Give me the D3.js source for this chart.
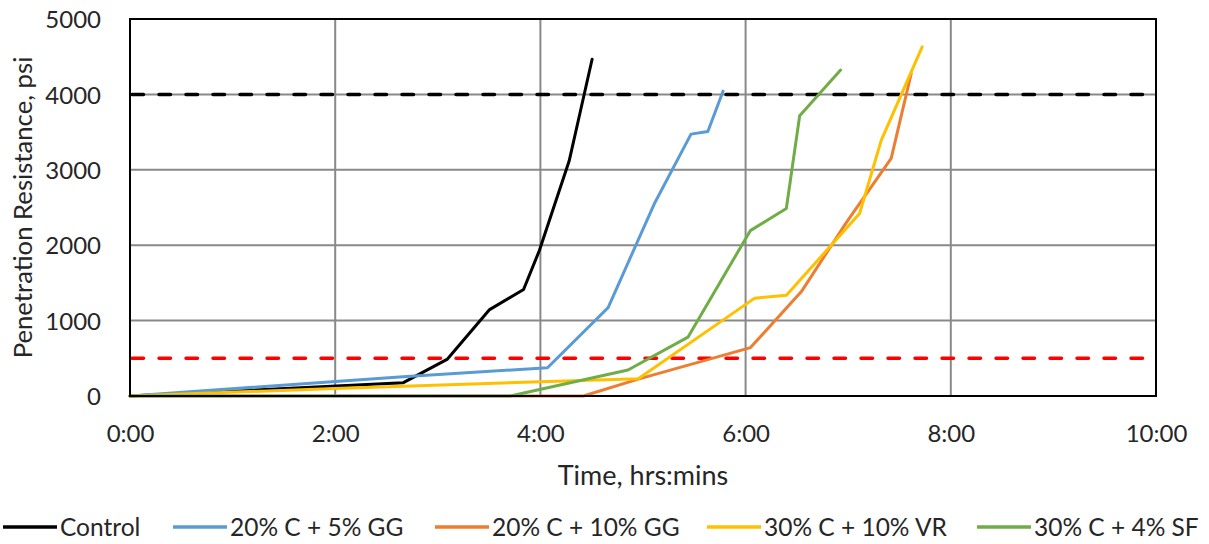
<!DOCTYPE html>
<html>
<head>
<meta charset="utf-8">
<script src="https://cdn.jsdelivr.net/npm/d3@7"></script>
<style>
  html, body { margin: 0; padding: 0; background: #fff; }
  svg { display: block; }
  text { font-family: Lato, "Open Sans", sans-serif; fill: #262626; }
</style>
</head>
<body>
<svg id="chart" width="1209" height="544"></svg>
<script>
// ---- data (time in hours, resistance in psi) ----
const seriesNames = ["Control", "20% C + 5% GG", "20% C + 10% GG", "30% C + 10% VR", "30% C + 4% SF"];
const seriesColors = ["#000000", "#5B9BD5", "#ED7D31", "#FFC000", "#70AD47"];

const controlTime = [0, 2.66, 3.09, 3.505, 3.836, 3.99, 4.28, 4.387, 4.504];
const controlPsi  = [0, 175, 485, 1146, 1412, 1930, 3116, 3760, 4466];

const gg5Time = [0, 2.66, 4.069, 4.66, 5.109, 5.468, 5.632, 5.78];
const gg5Psi  = [0, 255, 375, 1172, 2546, 3473, 3508, 4043];

const gg10Time = [0, 4.419, 4.954, 6.048, 6.544, 6.981, 7.419, 7.614];
const gg10Psi  = [0, 0, 224, 642, 1385, 2300, 3152, 4275];

const vrTime = [0, 2.0, 3.998, 4.954, 6.089, 6.398, 7.111, 7.322, 7.721];
const vrPsi  = [0, 100, 188, 228, 1298, 1335, 2420, 3390, 4630];

const sfTime = [0, 3.706, 4.854, 5.438, 6.046, 6.397, 6.527, 6.926];
const sfPsi  = [0, 0, 345, 780, 2193, 2487, 3718, 4323];

const thresholdValues = [4000, 500];
const thresholdColors = ["#000000", "#FF0000"];

const xTickValues = [0, 2, 4, 6, 8, 10];
const xTickLabels = ["0:00", "2:00", "4:00", "6:00", "8:00", "10:00"];
const yTickValues = [0, 1000, 2000, 3000, 4000, 5000];

const xTitle = "Time, hrs:mins";
const yTitle = "Penetration Resistance, psi";

// ---- layout ----
const plot = { left: 130, right: 1156, top: 19, bottom: 396 };
const svg = d3.select("#chart");

const x = d3.scaleLinear().domain([0, 10]).range([plot.left, plot.right]);
const y = d3.scaleLinear().domain([0, 5000]).range([plot.bottom, plot.top]);

// gridlines
const grid = svg.append("g");
grid.selectAll("line.v").data(xTickValues.slice(1, -1)).join("line")
  .attr("x1", d => x(d)).attr("x2", d => x(d))
  .attr("y1", plot.top).attr("y2", plot.bottom)
  .attr("stroke", "#898989").attr("stroke-width", 2);
grid.selectAll("line.h").data(yTickValues.slice(1, -1)).join("line")
  .attr("y1", d => y(d)).attr("y2", d => y(d))
  .attr("x1", plot.left).attr("x2", plot.right)
  .attr("stroke", "#898989").attr("stroke-width", 2);

// threshold dashed lines
svg.append("g").selectAll("line").data(thresholdValues).join("line")
  .attr("x1", plot.left).attr("x2", plot.right)
  .attr("y1", d => y(d)).attr("y2", d => y(d))
  .attr("stroke", (d, i) => thresholdColors[i])
  .attr("stroke-width", 3.5)
  .attr("stroke-dasharray", "11.5,15.5")
  .attr("stroke-dashoffset", -2)
  .attr("stroke-linecap", "round");

// series
const series = [
  controlTime.map((t, i) => [t, controlPsi[i]]),
  gg5Time.map((t, i) => [t, gg5Psi[i]]),
  gg10Time.map((t, i) => [t, gg10Psi[i]]),
  vrTime.map((t, i) => [t, vrPsi[i]]),
  sfTime.map((t, i) => [t, sfPsi[i]])
];
const line = d3.line().x(d => x(d[0])).y(d => y(d[1]));
svg.append("g").selectAll("path").data(series).join("path")
  .attr("d", line)
  .attr("fill", "none")
  .attr("stroke", (d, i) => seriesColors[i])
  .attr("stroke-width", 3)
  .attr("stroke-linejoin", "round")
  .attr("stroke-linecap", "round");

// frame
svg.append("rect")
  .attr("x", plot.left).attr("y", plot.top)
  .attr("width", plot.right - plot.left).attr("height", plot.bottom - plot.top)
  .attr("fill", "none").attr("stroke", "#000").attr("stroke-width", 2);

// axes (labels only, Excel style)
const xAxis = d3.axisBottom(x).tickValues(xTickValues)
  .tickFormat((d, i) => xTickLabels[i]).tickSize(0).tickPadding(0);
const gx = svg.append("g").attr("transform", `translate(0, ${plot.bottom})`).call(xAxis);
gx.select(".domain").remove();
gx.selectAll("text").attr("font-size", 24).attr("dy", null).attr("y", 45.5)
  .style("font-family", "Lato").attr("fill", "#262626");

const yAxis = d3.axisLeft(y).tickValues(yTickValues).tickSize(0).tickPadding(0)
  .tickFormat(d3.format("d"));
const gy = svg.append("g").attr("transform", `translate(101, 0)`).call(yAxis);
gy.select(".domain").remove();
gy.selectAll("text").attr("font-size", 24).attr("dy", "0.36em").attr("x", 0)
  .style("font-family", "Lato").attr("fill", "#262626");

// titles
svg.append("text")
  .attr("x", (plot.left + plot.right) / 2).attr("y", 485)
  .attr("text-anchor", "middle").attr("font-size", 27)
  .text(xTitle);
svg.append("text")
  .attr("transform", `translate(32, ${(plot.top + plot.bottom) / 2}) rotate(-90)`)
  .attr("text-anchor", "middle").attr("font-size", 25.7)
  .text(yTitle);

// legend
const legendX = [3, 173, 435, 707, 977];
const lg = svg.append("g").selectAll("g").data(seriesNames).join("g")
  .attr("transform", (d, i) => `translate(${legendX[i]}, 527)`);
lg.append("line").attr("x1", 0).attr("x2", 54).attr("y1", 0).attr("y2", 0)
  .attr("stroke", (d, i) => seriesColors[i]).attr("stroke-width", 3.5);
lg.append("text").attr("x", 57).attr("y", 9).attr("font-size", 24.5)
  .text(d => d);
</script>
</body>
</html>
